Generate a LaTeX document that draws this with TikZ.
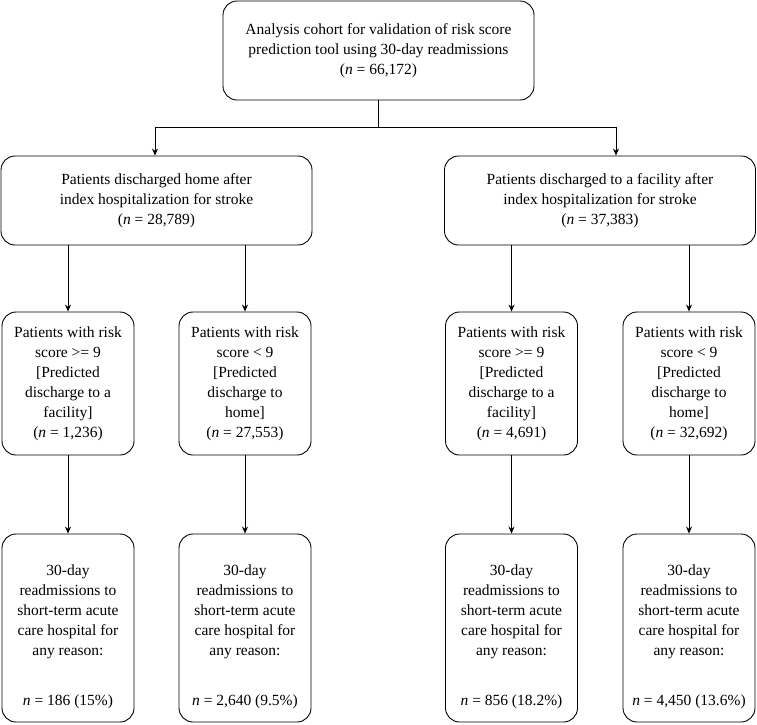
\documentclass[tikz,border=0pt]{standalone}
\usepackage{fontspec}
\setmainfont{Liberation Serif}
\usetikzlibrary{arrows.meta}

\newcommand{\nval}[1]{(\textit{n} = #1)}
\newcommand{\toppad}{\rule{0pt}{29pt}}

\begin{document}
\begin{tikzpicture}[
      x=1pt, y=-1pt,
      font=\fontsize{15.5}{20}\selectfont,
      line width=0.9pt,
      box/.style={draw, rounded corners=14pt, align=center, inner sep=0pt},
      wide/.style={box, minimum width=311pt, minimum height=89pt},
      narrow/.style={box, minimum width=132pt, minimum height=143pt},
      tall/.style={box, minimum width=132pt, minimum height=188pt},
      arr/.style={-{Stealth[length=7pt,width=6pt]}}
    ]
    \useasboundingbox (0,0) rectangle (757,724);
    \node (root) [box, minimum width=311pt, minimum height=99pt] at (378.5,50.5)
      {Analysis cohort for validation of risk score\\
       prediction tool using 30-day readmissions\\ \nval{66,172}};
    \node (home) [wide] at (156.5,200.5)
      {Patients discharged home after\\ index hospitalization for stroke\\ \nval{28,789}};
    \node (fac) [wide] at (600,200.5)
      {Patients discharged to a facility after\\ index hospitalization for stroke\\ \nval{37,383}};
    \node (home0) [narrow] at (68,383.5)
      {Patients with risk\\ score >= 9\\ {[}Predicted\\ discharge to a\\ facility]\\ \nval{1,236}};
    \node (home1) [narrow] at (245,383.5)
      {Patients with risk\\ score < 9\\ {[}Predicted\\ discharge to\\ home]\\ \nval{27,553}};
    \node (fac0) [narrow] at (511.5,383.5)
      {Patients with risk\\ score >= 9\\ {[}Predicted\\ discharge to a\\ facility]\\ \nval{4,691}};
    \node (fac1) [narrow] at (689,383.5)
      {Patients with risk\\ score < 9\\ {[}Predicted\\ discharge to\\ home]\\ \nval{32,692}};
    \node (home00) [tall] at (68,628)
      {\toppad 30-day\\ readmissions to\\ short-term acute\\ care hospital for\\ any reason:\\[30pt] \textit{n} = 186 (15\%)};
    \node (home10) [tall] at (245,628)
      {\toppad 30-day\\ readmissions to\\ short-term acute\\ care hospital for\\ any reason:\\[30pt] \textit{n} = 2,640 (9.5\%)};
    \node (fac00) [tall] at (511.5,628)
      {\toppad 30-day\\ readmissions to\\ short-term acute\\ care hospital for\\ any reason:\\[30pt] \textit{n} = 856 (18.2\%)};
    \node (fac10) [tall] at (689,628)
      {\toppad 30-day\\ readmissions to\\ short-term acute\\ care hospital for\\ any reason:\\[30pt] \textit{n} = 4,450 (13.6\%)};

    % split below the cohort box
    \coordinate (mid) at (378,127);
    \coordinate (left) at (155,127);
    \coordinate (right) at (616,127);
    \draw (root.south -| mid) -- (mid);
    \draw (left) -- (right);
    \draw[arr] (left) -- (left |- home.north);
    \draw[arr] (right) -- (right |- fac.north);

    \draw[arr] (home.south -| home0) -- (home0.north);
    \draw[arr] (home.south -| home1) -- (home1.north);
    \draw[arr] (fac.south -| fac0) -- (fac0.north);
    \draw[arr] (fac.south -| fac1) -- (fac1.north);

    \draw[arr] (home0) -- (home00);
    \draw[arr] (home1) -- (home10);
    \draw[arr] (fac0) -- (fac00);
    \draw[arr] (fac1) -- (fac10);
  \end{tikzpicture}
\end{document}
